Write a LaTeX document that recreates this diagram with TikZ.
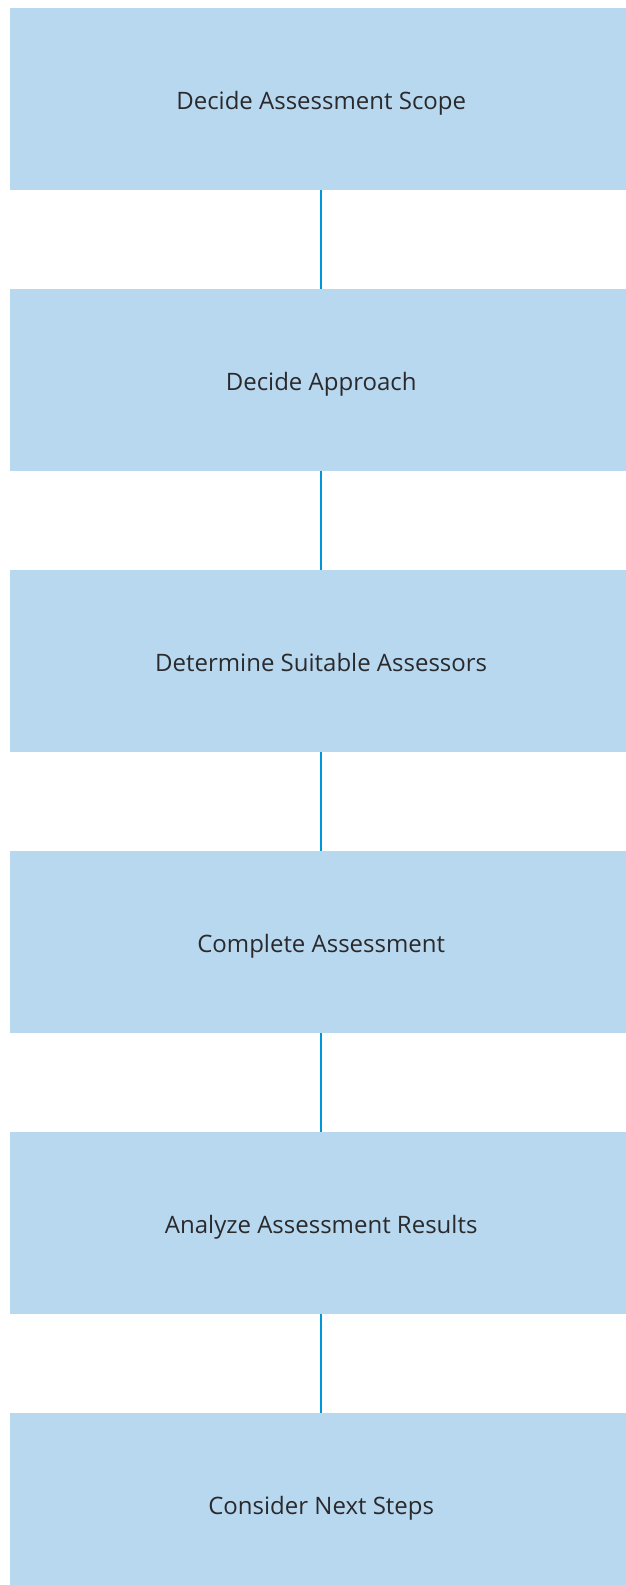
\documentclass[tikz,border=0pt]{standalone}
\usepackage{fontspec}
\setmainfont{Open Sans}
\usetikzlibrary{positioning}
\definecolor{boxblue}{HTML}{B8D8F0}
\definecolor{lineblue}{HTML}{0096D8}
\definecolor{textgray}{HTML}{2A2A2C}
\begin{document}
\begin{tikzpicture}[x=1pt,y=1pt,
		stagebox/.style={fill=boxblue, minimum width=622pt, minimum height=182pt, inner sep=0pt,
			text height=21pt, text depth=0pt,
			text=textgray, font=\fontsize{24}{28}\selectfont},
		link/.style={lineblue, line width=2pt}]
		\useasboundingbox (0,0) rectangle (626,-1585);
		\node[stagebox, anchor=north west] (scope) at (10,-8) {Decide Assessment Scope};
		\node[stagebox, below=98.6pt of scope] (approach) {Decide Approach};
		\node[stagebox, below=98.6pt of approach] (assessors) {Determine Suitable Assessors};
		\node[stagebox, below=98.6pt of assessors] (complete) {Complete Assessment};
		\node[stagebox, below=98.6pt of complete] (analyze) {Analyze Assessment Results};
		\node[stagebox, below=98.6pt of analyze] (next) {Consider Next Steps};
		\foreach \a/\b in {scope/approach, approach/assessors, assessors/complete, complete/analyze, analyze/next}
			\draw[link] (\a) -- (\b);
	\end{tikzpicture}
\end{document}
